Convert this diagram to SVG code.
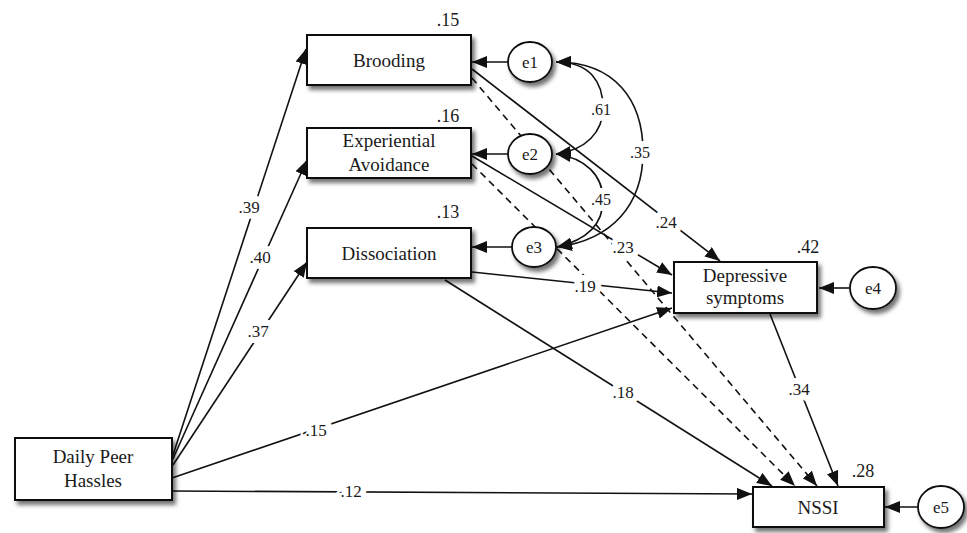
<svg xmlns="http://www.w3.org/2000/svg" width="967" height="533" viewBox="0 0 967 533">
  <defs>
    <filter id="shadow" x="-20%" y="-20%" width="150%" height="160%">
      <feDropShadow dx="3" dy="4" stdDeviation="2" flood-color="#000" flood-opacity="0.55"/>
    </filter>
    <marker id="arr" viewBox="0 0 15 12" refX="15" refY="6" markerWidth="15" markerHeight="12" markerUnits="userSpaceOnUse" orient="auto-start-reverse">
      <path d="M0,0 L15,6 L0,12 z" fill="#111"/>
    </marker>
  </defs>
  <style>
    .box { fill: #fff; stroke: #111; stroke-width: 2; filter: url(#shadow); }
    .err { fill: #fff; stroke: #111; stroke-width: 1.8; filter: url(#shadow); }
    .t { font-family: "Liberation Serif", "Times New Roman", serif; font-size: 19px; fill: #1a1a1a; text-anchor: middle; }
    .te { font-family: "Liberation Serif", "Times New Roman", serif; font-size: 17px; fill: #1a1a1a; text-anchor: middle; }
    .r2 { font-family: "Liberation Serif", "Times New Roman", serif; font-size: 18px; fill: #1a1a1a; text-anchor: middle; }
    .c { fill: none; stroke: #111; stroke-width: 1.6; marker-end: url(#arr); }
    .d { stroke-dasharray: 7 5; }
    .cov { fill: none; stroke: #111; stroke-width: 1.6; marker-start: url(#arr); marker-end: url(#arr); }
    .lbl { font-family: "Liberation Serif", "Times New Roman", serif; font-size: 17px; fill: #1a1a1a; text-anchor: middle; stroke: #fff; stroke-width: 12; stroke-linejoin: round; paint-order: stroke; }
    .lbls { font-size: 16px; }
  </style>
  <rect width="967" height="533" fill="#fff"/>

  <g id="connectors">
    <!-- Daily Peer Hassles paths -->
    <path class="c" d="M172,458 L306,49"/>
    <path class="c" d="M172,461 L307,160"/>
    <path class="c" d="M173,465 L307,262"/>
    <path class="c" d="M172,478 L672,308"/>
    <path class="c" d="M172,491 L752,494"/>
    <!-- Brooding -->
    <path class="c" d="M472,69 L720,261"/>
    <path class="c d" d="M472,78 L817,486"/>
    <!-- Experiential Avoidance -->
    <path class="c" d="M472,156 L672,275"/>
    <path class="c d" d="M472,164 L795,486"/>
    <!-- Dissociation -->
    <path class="c" d="M472,272 L672,293"/>
    <path class="c" d="M445,280 L772,486"/>
    <!-- Depressive symptoms -->
    <path class="c" d="M770,314 L838,486"/>
    <!-- errors -->
    <path class="c" d="M508,62 L472,62"/>
    <path class="c" d="M508,154 L472,154"/>
    <path class="c" d="M512,247 L472,247"/>
    <path class="c" d="M850,288 L819,288"/>
    <path class="c" d="M918,507 L885,507"/>
    <!-- covariances -->
    <path class="cov" d="M556,62 C590,62 603,82 603,108 C603,132 586,150 556,154"/>
    <path class="cov" d="M556,62 C615,62 643,100 643,152 C643,205 612,240 557,247"/>
    <path class="cov" d="M556,154 C585,158 603,175 603,200 C603,225 586,240 557,247"/>
    <!-- path labels -->
    <text class="lbl" x="249" y="213">.39</text>
    <text class="lbl" x="260" y="263">.40</text>
    <text class="lbl" x="258" y="337">.37</text>
    <text class="lbl" x="316" y="436">.15</text>
    <text class="lbl" x="351" y="497">.12</text>
    <text class="lbl" x="666" y="228">.24</text>
    <text class="lbl" x="623" y="253">.23</text>
    <text class="lbl" x="585" y="292">.19</text>
    <text class="lbl" x="623" y="398">.18</text>
    <text class="lbl" x="799" y="395">.34</text>
    <text class="lbl lbls" x="601" y="115">.61</text>
    <text class="lbl lbls" x="640" y="158">.35</text>
    <text class="lbl lbls" x="601" y="205">.45</text>
  </g>

  <g id="brooding">
    <rect class="box" x="307" y="35" width="164" height="50"/>
    <text class="t" x="389" y="67">Brooding</text>
    <text class="r2" x="448" y="26">.15</text>
  </g>
  <g id="experiential-avoidance">
    <rect class="box" x="307" y="128" width="164" height="50"/>
    <text class="t" x="389" y="147">Experiential</text>
    <text class="t" x="389" y="171">Avoidance</text>
    <text class="r2" x="448" y="122">.16</text>
  </g>
  <g id="dissociation">
    <rect class="box" x="307" y="228" width="164" height="50"/>
    <text class="t" x="389" y="260">Dissociation</text>
    <text class="r2" x="448" y="218">.13</text>
  </g>
  <g id="depressive-symptoms">
    <rect class="box" x="674" y="262" width="143" height="51"/>
    <text class="t" x="745" y="282">Depressive</text>
    <text class="t" x="745" y="304">symptoms</text>
    <text class="r2" x="808" y="253">.42</text>
  </g>
  <g id="nssi">
    <rect class="box" x="753" y="487" width="131" height="40"/>
    <text class="t" x="818" y="514">NSSI</text>
    <text class="r2" x="863" y="477">.28</text>
  </g>
  <g id="daily-peer-hassles">
    <rect class="box" x="15" y="438" width="157" height="62"/>
    <text class="t" x="93" y="463">Daily Peer</text>
    <text class="t" x="93" y="487">Hassles</text>
  </g>
  <g id="e1">
    <ellipse class="err" cx="530" cy="62" rx="22" ry="20"/>
    <text class="te" x="530" y="68">e1</text>
  </g>
  <g id="e2">
    <ellipse class="err" cx="530" cy="154" rx="22" ry="20"/>
    <text class="te" x="530" y="160">e2</text>
  </g>
  <g id="e3">
    <ellipse class="err" cx="534" cy="247" rx="22" ry="20"/>
    <text class="te" x="534" y="253">e3</text>
  </g>
  <g id="e4">
    <ellipse class="err" cx="873" cy="288" rx="23" ry="21"/>
    <text class="te" x="873" y="294">e4</text>
  </g>
  <g id="e5">
    <ellipse class="err" cx="941" cy="507" rx="23" ry="21"/>
    <text class="te" x="941" y="513">e5</text>
  </g>
</svg>
